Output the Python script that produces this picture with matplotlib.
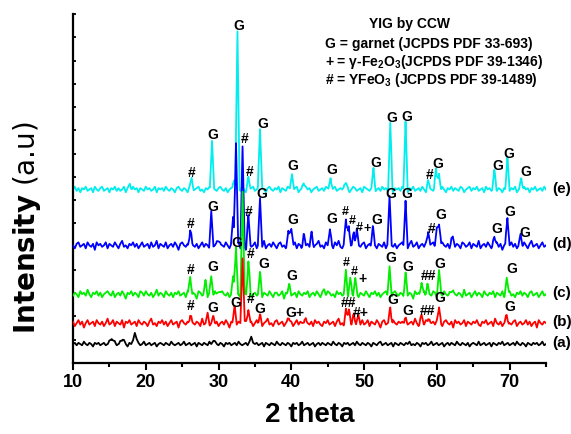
import numpy as np
import matplotlib
matplotlib.use("Agg")
import matplotlib.pyplot as plt

plt.rcParams['font.family'] = ['Liberation Sans', 'DejaVu Sans']
plt.rcParams['mathtext.fontset'] = 'custom'
plt.rcParams['mathtext.rm'] = 'Liberation Sans:bold'
plt.rcParams['mathtext.it'] = 'Liberation Sans:bold'
plt.rcParams['mathtext.bf'] = 'Liberation Sans:bold'

# ---------------- data (intensity in arbitrary units, offset per pattern) ----------------
series_names = ['(a)', '(b)', '(c)', '(d)', '(e)']
series_colors = ['black', '#ff0000', '#00ee00', '#0000ff', '#00eeee']
baselines = [19, 40, 69, 118, 174]
half_widths = [0.5, 0.3, 0.3, 0.3, 0.3]
noise_amp = [1.2, 1.5, 1.5, 1.5, 1.4]   # size of background fuzz (units per noise step)

# peaks: 2theta positions and heights above baseline
peaks_a_pos = [15.3, 16.8, 18.5, 29.3, 34.5]
peaks_a_h = [6, 5, 10, 3, 5]

peaks_b_pos = [26.1, 28.5, 29.3, 32.2, 33.3, 34.1, 35.7, 39.7, 41.8, 47.5, 47.9, 48.6,
               49.2, 53.6, 55.6, 57.9, 58.8, 60.3, 69.6]
peaks_b_h = [8, 9, 5, 15, 67, 14, 8, 5, 6, 13, 12, 10, 7, 16, 5, 8, 6, 17, 7]

peaks_c_pos = [26.1, 28.2, 29.0, 30.0, 32.0, 32.4, 33.3, 34.1, 35.7, 39.7, 44.5, 47.5,
               48.1, 48.8, 53.5, 55.7, 57.9, 58.7, 60.3, 62.0, 69.6]
peaks_c_h = [18, 12, 18, 5, 15, 47, 100, 32, 20, 8, 5, 20, 16, 14, 28, 20, 12, 10, 24, 5, 16]

peaks_d_pos = [26.1, 29.0, 30.0, 32.0, 32.4, 33.3, 34.1, 35.7, 39.6, 40.0, 41.7, 42.8,
               45.3, 47.5, 47.9, 48.6, 49.0, 51.2, 53.5, 55.7, 58.8, 60.0, 60.3, 62.2,
               67.9, 69.7, 71.5]
peaks_d_h = [15, 30, 7, 24, 103, 98, 28, 47, 12, 18, 10, 12, 17, 26, 19, 14, 14, 16, 45,
             45, 17, 18, 23, 8, 8, 28, 10]

peaks_e_pos = [17.8, 26.3, 29.1, 32.2, 32.6, 34.1, 35.7, 40.1, 41.7, 45.4, 47.5, 51.3,
               53.6, 55.7, 58.8, 59.9, 60.3, 67.9, 69.7, 71.6]
peaks_e_h = [6, 11, 49, 10, 158, 12, 61, 16, 7, 13, 8, 20, 66, 67, 8, 20, 15, 18, 30, 11]

# background noise read as small deviations every 0.25 deg from 10 to 75
noise_a = [
    0, 1, -1, 1, 0, -1, 2, 0, -1, 1, 0, -2, 1, 0, 1, -1, 0, 1, -1, 0,
    1, -1, 0, 2, -1, 0, 1, -1, 1, 0, -2, 1, 0, -1, 1, 0, 1, -1, 0, 2,
    -1, 0, 1, -1, 0, 1, -2, 0, 1, 0, -1, 1, 0, -1, 2, 0, -1, 0, 1, -1,
    0, 2, -1, 0, 1, -1, 0, 1, -2, 1, 0, -1, 1, 0, -1, 2, -1, 0, 1, 0,
    -1, 1, 0, -2, 1, 0, 1, -1, 0, 1, -1, 2, 0, -1, 0, 1, -1, 0, 2, -1,
    0, 1, -1, 0, 1, -2, 1, 0, -1, 1, 0, -1, 2, 0, -1, 1, 0, -1, 1, 0,
    -2, 1, 0, 1, -1, 0, 2, -1, 0, 1, -1, 0, 1, -2, 0, 1, -1, 1, 0, -1,
    1, 0, -1, 2, 0, -1, 1, 0, -2, 1, 0, 1, -1, 0, 1, -1, 2, 0, -1, 1,
    0, -1, 1, 0, -2, 1, 0, -1, 1, 2, -1, 0, 1, -1, 0, 1, -2, 1, 0, -1,
    1, 0, -1, 1, 0, 2, -1, 0, -1, 1, 0, -2, 1, 0, 1, -1, 0, 2, -1, 0,
    1, -1, 0, 1, -2, 0, 1, -1, 1, 0, -1, 2, 0, -1, 1, 0, -1, 1, -2, 0,
    1, 0, -1, 2, -1, 0, 1, -1, 0, 1, -2, 1, 0, -1, 1, 0, 2, -1, 0, 1,
    -1, 0, 1, -1, 2, 0, -1, 1, 0, -2, 1, 0, -1, 1, 0, 1, -1, 0, 2, -1,
    0]
noise_b = [
    1, -2, 0, 2, -1, 1, -3, 0, 2, -1, 0, 1, -2, 2, 0, -1, 1, -2, 0, 3,
    -1, 0, 2, -2, 1, 0, -1, 2, -3, 1, 0, 2, -1, 0, 1, -2, 2, 0, -1, 1,
    0, -2, 1, 3, -1, 0, -2, 1, 0, 2, -1, 1, -2, 0, 2, -1, 0, 1, -3, 1,
    2, 0, -1, 1, -2, 2, 0, -1, 1, 0, -2, 3, -1, 0, 1, -2, 0, 2, -1, 1,
    -2, 0, 1, -1, 2, 0, -3, 1, 0, 2, -1, 1, 0, -2, 1, 2, -1, 0, 1, -2,
    0, 2, -1, 1, -2, 0, 1, 3, -1, 0, -2, 1, 2, -1, 0, 1, -2, 0, 2, -1,
    1, -2, 0, 2, -1, 1, 0, -3, 2, 0, -1, 1, -2, 2, 0, 1, -1, -2, 1, 0,
    2, -1, 0, 1, -2, 1, 3, -1, 0, -2, 1, 0, 2, -1, 1, -2, 0, 1, -1, 2,
    -1, 0, 2, -2, 1, 0, -1, 2, 0, -3, 1, 2, -1, 0, 1, -2, 2, 0, -1, 1,
    0, 1, -2, 2, -1, 0, 1, -1, 3, 0, -2, 1, 0, -1, 2, -2, 1, 0, 1, -1,
    2, -1, 0, -2, 1, 2, 0, -1, 1, -3, 2, 0, 1, -1, 0, 2, -2, 1, 0, -1,
    1, 0, 2, -1, -2, 1, 0, 2, -1, 0, 1, -2, 3, 0, -1, 1, -2, 0, 2, -1,
    0, -1, 1, 2, -2, 0, 1, -1, 0, 2, -1, 1, -2, 0, 1, -3, 2, 0, -1, 1,
    0]
noise_c = [
    -1, 1, 0, -2, 2, 0, 1, -1, 3, 0, -2, 1, 0, 2, -1, 1, -2, 0, 1, 2,
    0, -1, 2, -2, 0, 1, -1, 2, 0, -3, 1, 0, 2, -1, 1, 0, -2, 2, 1, -1,
    2, 0, -1, 1, -2, 0, 3, -1, 1, 0, -2, 2, 0, -1, 1, -2, 1, 0, 2, -1,
    0, 1, -2, 2, 0, -1, 1, 0, -3, 2, 1, -1, 0, 2, -2, 1, 0, -1, 2, 0,
    -2, 1, 2, 0, -1, 1, -2, 0, 2, 1, -1, 0, -2, 2, 1, 0, -1, 3, -2, 0,
    1, -1, 0, 2, -2, 1, 0, -1, 2, 0, -2, 1, 1, -1, 0, 2, -3, 1, 0, 2,
    -1, 0, 1, -2, 2, 0, -1, 1, 0, 2, -2, 0, 1, -1, 2, 0, -2, 1, 0, -1,
    2, 1, -1, 0, -2, 2, 0, 1, -1, 0, 3, -2, 0, 1, -1, 2, 0, -2, 1, 0,
    -1, 2, 0, -2, 1, 0, 2, -1, 1, -2, 0, 1, 2, -1, 0, -2, 1, 2, 0, -1,
    1, 0, -2, 2, -1, 1, 0, -3, 2, 0, 1, -1, 0, 2, -2, 1, 0, -1, 2, 1,
    -2, 0, 1, -1, 2, 0, -1, 1, -2, 2, 0, -1, 1, 0, -2, 3, -1, 0, 1, -2,
    0, 2, -1, 1, 0, -2, 2, 0, -1, 1, 0, 2, -2, 1, 0, -1, 2, -2, 0, 1,
    2, -1, 0, -2, 1, 0, 2, -1, 1, 0, -2, 1, 2, -1, 0, 1, -2, 0, 2, -1,
    0]
noise_d = [
    0, -2, 1, 2, -1, 0, 1, -2, 2, 0, -1, 1, -3, 2, 0, 1, -1, 0, 2, -2,
    1, 0, -1, 2, 0, -2, 1, 3, -1, 0, -2, 1, 0, 2, -1, 1, -2, 0, 2, -1,
    0, 1, -2, 2, -1, 0, 3, -2, 1, 0, -1, 2, -2, 0, 1, -1, 2, 0, -3, 1,
    2, 0, -1, 1, -2, 3, 0, -1, 1, -2, 0, 2, -1, 1, 0, -2, 3, -1, 0, 2,
    -2, 1, 0, -1, 2, 0, -2, 1, 3, -1, 0, 2, -2, 1, 0, -3, 2, 1, -1, 0,
    2, -2, 1, 0, -1, 3, -2, 0, 1, -1, 2, 0, -2, 1, 2, -1, 0, -2, 1, 3,
    -1, 0, 2, -2, 1, 0, -3, 2, 0, 1, -1, 2, -2, 0, 1, 3, -1, 0, -2, 2,
    0, -1, 1, -2, 2, 0, 3, -1, -2, 1, 0, 2, -1, 0, 1, -3, 2, 0, -1, 1,
    2, -2, 0, 1, -1, 3, 0, -2, 1, 0, -1, 2, -2, 1, 3, 0, -1, 1, -2, 0,
    1, 2, -1, 0, -2, 1, 3, -1, 0, 2, -2, 0, 1, -1, 2, -3, 0, 1, 2, -1,
    0, -2, 1, 2, 0, -1, 1, -2, 3, 0, -1, 1, 0, -2, 2, 1, -1, 0, 2, -2,
    1, 0, -1, 3, -2, 0, 1, -1, 2, 0, -2, 1, 0, 2, -1, 1, -3, 0, 2, -1,
    0, 2, -1, 1, -2, 0, 1, -1, 2, 0, -2, 1, 3, -1, 0, 1, -2, 0, 2, -1,
    0]
noise_e = [
    0, 2, -1, 1, -2, 1, 0, 2, -1, 0, 1, -2, 2, 0, -1, 1, 2, -1, 0, 1,
    -2, 1, 0, 2, -1, 1, -1, 0, 2, -2, 1, 0, -1, 2, 0, 1, -2, 1, 0, -1,
    2, 0, 1, -1, 0, 2, -2, 1, 0, 1, -1, 2, 0, -1, 1, 0, -2, 1, 2, 0,
    -1, 1, 0, -2, 2, 1, -1, 0, 1, 2, -1, 0, -2, 1, 0, 2, -1, 1, 0, -1,
    1, 2, 0, -1, 1, -2, 0, 1, 2, -1, 0, 1, -1, 2, 0, -2, 1, 0, 1, 2,
    -1, 0, 2, -1, 1, 0, -2, 1, 2, 0, -1, 1, 0, 2, -2, 1, 0, -1, 2, 1,
    0, -1, 1, 2, -2, 0, 1, -1, 2, 0, 1, -2, 0, 1, 2, -1, 0, 1, -1, 2,
    1, 0, -2, 1, 2, -1, 0, 1, 0, 2, -1, 1, -2, 0, 2, 1, -1, 0, 1, -2,
    2, 1, 0, -1, 1, 2, -2, 0, 1, -1, 2, 0, 1, -1, 0, 2, -2, 1, 0, 1,
    -1, 2, 0, 1, -2, 1, 0, 2, -1, 0, 1, -1, 2, 0, -2, 1, 1, 0, -1, 2,
    0, 1, -1, 2, 0, -2, 1, 0, 2, -1, 1, 0, -1, 2, 1, -2, 0, 1, 2, -1,
    1, 0, 2, -1, 0, 1, -2, 2, 0, 1, -1, 0, 2, -1, 1, 0, -2, 1, 0, 2,
    -1, 1, 0, 2, -2, 0, 1, -1, 2, 0, 1, -2, 1, 0, 2, -1, 0, 1, -1, 2,
    0]

# peak annotations: (2theta, height, text, size) per pattern
labels_e = [(26.3, 191, '#', 10), (29.2, 229, 'G', 10), (32.8, 338, 'G', 10),
            (33.6, 225, '#', 10), (34.3, 192, '#', 10), (36.1, 240, 'G', 10),
            (40.2, 198, 'G', 10), (45.6, 194, 'G', 10), (51.6, 201, 'G', 10),
            (53.8, 246, 'G', 10), (55.9, 247, 'G', 10), (59.0, 189, '#', 10),
            (60.1, 200, 'G', 10), (68.4, 198, 'G', 10), (69.9, 210, 'G', 10),
            (72.2, 192, 'G', 10)]
labels_d = [(26.2, 139, '#', 10), (29.2, 156, 'G', 10), (34.2, 151, '#', 10),
            (36.0, 169, 'G', 10), (40.2, 143, 'G', 10), (45.6, 144, 'G', 10),
            (47.4, 151, '#', 9), (48.4, 142, '#', 9), (49.4, 135, '#', 9),
            (50.4, 134, '+', 9), (51.8, 143, 'G', 10), (53.7, 169, 'G', 10),
            (55.9, 169, 'G', 10), (59.3, 134, '#', 10), (60.5, 148, 'G', 10),
            (68.2, 134, 'G', 10), (70.0, 151, 'G', 10), (72.1, 130, 'G', 10)]
labels_c = [(26.2, 93, '#', 10), (29.2, 96, 'G', 10), (32.5, 120, 'G', 10),
            (34.4, 109, '#', 10), (36.2, 99, 'G', 10), (40.1, 87, 'G', 10),
            (47.5, 100, '#', 9), (48.6, 91, '#', 9), (49.8, 84, '+', 10),
            (53.7, 105, 'G', 10), (56.0, 96, 'G', 10), (58.8, 87, '##', 10),
            (60.4, 99, 'G', 10), (70.3, 94, 'G', 10)]
labels_b = [(26.2, 57, '#', 10), (29.2, 55, 'G', 10), (32.4, 60, 'G', 10),
            (34.4, 64, '#', 10), (35.7, 54, 'G', 10), (40.5, 50, 'G+', 10),
            (47.8, 60, '##', 10), (49.5, 50, '#+', 10), (53.9, 63, 'G', 10),
            (56.0, 52, 'G', 10), (58.7, 52, '##', 10), (60.4, 65, 'G', 10),
            (70.0, 56, 'G', 10)]

legend_title = 'YIG by CCW'
legend_lines = ['G = garnet (JCPDS PDF 33-693)',
                '+ = \u03b3-Fe$_2$O$_3$(JCPDS PDF 39-1346)',
                '# = YFeO$_3$ (JCPDS PDF 39-1489)']

x_ticks = [10, 20, 30, 40, 50, 60, 70]
x_label = '2 theta'

# ---------------- figure ----------------
fig = plt.figure(figsize=(5.71, 4.34), dpi=100)
ax = fig.add_axes([73 / 571, 1 - 363 / 434, (546 - 73) / 571, (363 - 14) / 434])

peaks_pos = [peaks_a_pos, peaks_b_pos, peaks_c_pos, peaks_d_pos, peaks_e_pos]
peaks_h = [peaks_a_h, peaks_b_h, peaks_c_h, peaks_d_h, peaks_e_h]
noises = [noise_a, noise_b, noise_c, noise_d, noise_e]


def pattern(base, noise, amp, pos, h, hw):
    gx = np.linspace(10, 75, len(noise))
    pos = np.asarray(pos, float)
    h = np.asarray(h, float)
    xs = np.unique(np.concatenate([gx, pos, pos - hw, pos + hw]))
    xs = xs[(xs >= 10) & (xs <= 75)]
    y = base + amp * np.interp(xs, gx, np.asarray(noise, float))
    for p, hh in zip(pos, h):
        y += hh * np.clip(1 - np.abs(xs - p) / hw, 0, None)
    return xs, y


# draw (e) first so lower patterns overlay
for i in [4, 3, 2, 1, 0]:
    xs, ys = pattern(baselines[i], noises[i], noise_amp[i], peaks_pos[i], peaks_h[i],
                     half_widths[i])
    ax.plot(xs, ys, color=series_colors[i], lw=1.3, zorder=2 + (4 - i))
    ax.text(75.9, baselines[i] + 1, series_names[i], ha='left', va='center',
            fontsize=11, fontweight='bold', clip_on=False)

for labs in [labels_e, labels_d, labels_c, labels_b]:
    for (x, y, t, fs) in labs:
        ax.text(x, y, t, ha='center', va='center', fontsize=fs, fontweight='bold',
                zorder=10, clip_on=False)

ax.text(56.3, 340, legend_title, ha='center', va='center', fontsize=10, fontweight='bold')
for k, line in enumerate(legend_lines):
    ax.text(44.6, 320 - 18 * k, line, ha='left', va='center', fontsize=10,
            fontweight='bold')

ax.set_xlim(10, 75)
ax.set_ylim(0, 350)
ax.spines['top'].set_visible(False)
ax.spines['right'].set_visible(False)
for s in ['left', 'bottom']:
    ax.spines[s].set_linewidth(1.6)

ax.set_xticks(x_ticks)
ax.set_xticklabels([str(v) for v in x_ticks], fontsize=13, fontweight='bold')
ax.set_xticks([15, 25, 35, 45, 55, 65, 75], minor=True)
ax.tick_params(axis='x', which='major', direction='out', length=5, width=1.5, pad=3)
ax.tick_params(axis='x', which='minor', direction='out', length=3, width=1.5)
ax.set_yticks(np.linspace(0, 350, 16))
ax.set_yticklabels([])
ax.tick_params(axis='y', which='major', direction='in', length=2.5, width=1.3)

ax.set_xlabel(x_label, fontsize=20, fontweight='bold', labelpad=8)
fig.text(27 / 571, 1 - 228 / 434, r'$\bf{Intensity}$ (a.u)', rotation=90,
         ha='center', va='center', fontsize=20, family='DejaVu Sans',
         math_fontfamily='dejavusans')

fig.savefig('out.png', dpi=100)
